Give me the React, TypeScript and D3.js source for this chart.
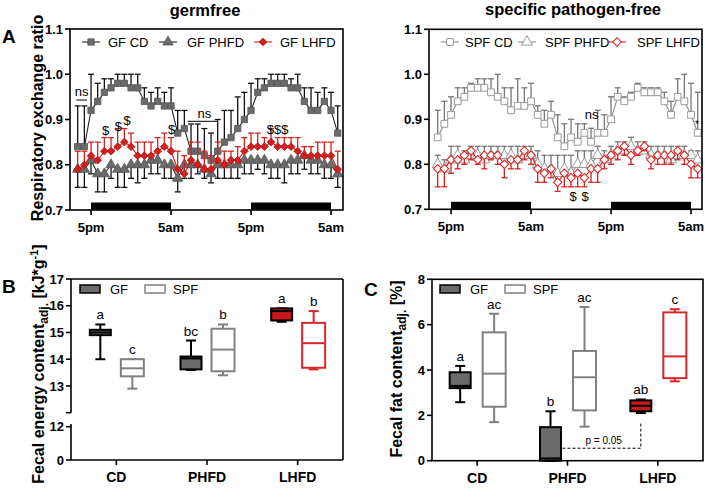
import React from "react";
import * as d3 from "d3";

// RER time course, hourly points starting at 3pm
const gfCD = [0.84, 0.84, 0.92, 0.94, 0.96, 0.97, 0.98, 0.98, 0.97, 0.97, 0.94, 0.93, 0.94, 0.93, 0.93, 0.87, 0.88, 0.83, 0.83, 0.82, 0.81, 0.83, 0.85, 0.86, 0.88, 0.90, 0.92, 0.96, 0.97, 0.98, 0.98, 0.98, 0.97, 0.97, 0.94, 0.92, 0.92, 0.94, 0.92, 0.87];
const gfCDErr = [0.09, 0.09, 0.08, 0.04, 0.03, 0.02, 0.02, 0.02, 0.03, 0.03, 0.03, 0.03, 0.03, 0.03, 0.04, 0.05, 0.04, 0.06, 0.06, 0.06, 0.06, 0.07, 0.07, 0.06, 0.07, 0.06, 0.06, 0.03, 0.02, 0.02, 0.02, 0.02, 0.02, 0.03, 0.03, 0.05, 0.04, 0.03, 0.04, 0.06];
const gfPHFD = [0.79, 0.79, 0.81, 0.78, 0.78, 0.80, 0.79, 0.79, 0.80, 0.80, 0.80, 0.81, 0.81, 0.80, 0.80, 0.77, 0.80, 0.80, 0.80, 0.79, 0.78, 0.80, 0.80, 0.80, 0.80, 0.81, 0.81, 0.81, 0.81, 0.80, 0.80, 0.80, 0.81, 0.81, 0.82, 0.81, 0.81, 0.80, 0.80, 0.78];
const gfPHFDErr = [0.04, 0.04, 0.03, 0.04, 0.04, 0.03, 0.04, 0.04, 0.03, 0.04, 0.03, 0.03, 0.03, 0.03, 0.03, 0.03, 0.03, 0.03, 0.02, 0.02, 0.02, 0.03, 0.03, 0.03, 0.03, 0.03, 0.03, 0.02, 0.03, 0.03, 0.03, 0.04, 0.03, 0.03, 0.03, 0.03, 0.03, 0.03, 0.03, 0.03];
const gfLHFD = [0.79, 0.80, 0.82, 0.81, 0.83, 0.83, 0.84, 0.85, 0.84, 0.82, 0.82, 0.82, 0.83, 0.84, 0.83, 0.79, 0.78, 0.81, 0.80, 0.79, 0.79, 0.81, 0.80, 0.81, 0.81, 0.83, 0.84, 0.84, 0.84, 0.85, 0.84, 0.84, 0.84, 0.83, 0.82, 0.82, 0.82, 0.82, 0.82, 0.79];
const gfLHFDErr = [0.04, 0.03, 0.03, 0.04, 0.03, 0.03, 0.04, 0.03, 0.03, 0.03, 0.03, 0.03, 0.03, 0.03, 0.03, 0.04, 0.04, 0.04, 0.05, 0.04, 0.03, 0.04, 0.03, 0.02, 0.03, 0.03, 0.03, 0.03, 0.02, 0.03, 0.02, 0.02, 0.02, 0.03, 0.02, 0.02, 0.03, 0.03, 0.03, 0.04];

const spfCD = [0.86, 0.89, 0.91, 0.94, 0.95, 0.97, 0.97, 0.97, 0.96, 0.95, 0.94, 0.92, 0.93, 0.93, 0.94, 0.91, 0.89, 0.91, 0.86, 0.84, 0.86, 0.85, 0.87, 0.85, 0.87, 0.87, 0.90, 0.95, 0.94, 0.95, 0.97, 0.96, 0.96, 0.96, 0.94, 0.91, 0.95, 0.94, 0.91, 0.87];
const spfCDErr = [0.06, 0.05, 0.04, 0.03, 0.02, 0.01, 0.02, 0.02, 0.03, 0.05, 0.03, 0.05, 0.06, 0.04, 0.04, 0.02, 0.03, 0.03, 0.05, 0.05, 0.04, 0.04, 0.02, 0.03, 0.05, 0.04, 0.05, 0.02, 0.01, 0.01, 0.01, 0.01, 0.01, 0.01, 0.02, 0.03, 0.04, 0.06, 0.07, 0.09];
const spfPHFD = [0.80, 0.79, 0.81, 0.82, 0.81, 0.82, 0.82, 0.81, 0.82, 0.82, 0.82, 0.82, 0.81, 0.82, 0.82, 0.80, 0.79, 0.79, 0.78, 0.79, 0.78, 0.80, 0.80, 0.80, 0.82, 0.81, 0.82, 0.83, 0.83, 0.84, 0.83, 0.83, 0.82, 0.82, 0.82, 0.81, 0.82, 0.82, 0.82, 0.81];
const spfPHFDErr = [0.02, 0.02, 0.03, 0.02, 0.02, 0.02, 0.02, 0.03, 0.02, 0.02, 0.02, 0.02, 0.03, 0.02, 0.02, 0.03, 0.03, 0.03, 0.04, 0.03, 0.04, 0.03, 0.03, 0.03, 0.02, 0.02, 0.02, 0.02, 0.02, 0.02, 0.02, 0.02, 0.02, 0.02, 0.02, 0.03, 0.02, 0.02, 0.01, 0.02];
const spfLHFD = [0.79, 0.79, 0.81, 0.81, 0.82, 0.83, 0.81, 0.82, 0.82, 0.82, 0.80, 0.81, 0.81, 0.83, 0.82, 0.79, 0.78, 0.79, 0.76, 0.78, 0.77, 0.78, 0.77, 0.79, 0.79, 0.81, 0.82, 0.83, 0.84, 0.82, 0.83, 0.84, 0.81, 0.82, 0.82, 0.82, 0.83, 0.82, 0.80, 0.79];
const spfLHFDErr = [0.04, 0.04, 0.03, 0.02, 0.02, 0.02, 0.01, 0.03, 0.01, 0.02, 0.03, 0.02, 0.02, 0.02, 0.02, 0.03, 0.02, 0.02, 0.02, 0.03, 0.02, 0.03, 0.02, 0.03, 0.03, 0.02, 0.02, 0.02, 0.02, 0.02, 0.01, 0.01, 0.02, 0.02, 0.02, 0.02, 0.02, 0.02, 0.03, 0.02];

const timeTicks = [2, 14, 26, 38];
const timeLabels = ["5pm", "5am", "5pm", "5am"];
const darkPhases: [number, number][] = [[2, 14], [26, 38]];
const rerTicks = [0.7, 0.8, 0.9, 1.0, 1.1];

// fecal analyses, box plots
const diets = ["CD", "PHFD", "LHFD"];
type Box = { min: number; q1: number; med: number; q3: number; max: number };
const energyGF: Box[] = [
  { min: 14.0, q1: 14.9, med: 15.0, q3: 15.1, max: 15.3 },
  { min: 13.6, q1: 13.62, med: 14.03, q3: 14.1, max: 14.7 },
  { min: 15.4, q1: 15.45, med: 15.8, q3: 15.9, max: 15.9 },
];
const energySPF: Box[] = [
  { min: 12.9, q1: 13.36, med: 13.66, q3: 14.0, max: 14.0 },
  { min: 13.4, q1: 13.55, med: 14.36, q3: 15.14, max: 15.3 },
  { min: 13.62, q1: 13.68, med: 14.6, q3: 15.36, max: 15.8 },
];
const energyLettersGF = ["a", "bc", "a"];
const energyLettersSPF = ["c", "b", "b"];
const fatGF: Box[] = [
  { min: 2.58, q1: 3.2, med: 3.3, q3: 3.9, max: 4.18 },
  { min: 0, q1: 0, med: 0.1, q3: 1.48, max: 2.18 },
  { min: 2.1, q1: 2.18, med: 2.42, q3: 2.66, max: 2.7 },
];
const fatSPF: Box[] = [
  { min: 1.7, q1: 2.38, med: 3.84, q3: 5.66, max: 6.48 },
  { min: 1.5, q1: 2.22, med: 3.68, q3: 4.84, max: 6.78 },
  { min: 3.5, q1: 3.64, med: 4.6, q3: 6.54, max: 6.68 },
];
const fatLettersGF = ["a", "b", "ab"];
const fatLettersSPF = ["ac", "ac", "c"];

const FONT = "Arial, 'Liberation Sans', Helvetica, sans-serif";

type Shape = "square" | "triangle" | "diamond";
type Series = {
  name: string; values: number[]; err: number[]; dir: number; shape: Shape;
  fill: string; stroke: string; line: string; errColor: string;
};

function markerPath(shape: Shape, open: boolean) {
  if (shape === "square") return d3.symbol(d3.symbolSquare, open ? 46 : 40)() as string;
  if (shape === "triangle") return d3.symbol(d3.symbolTriangle, open ? 52 : 46)() as string;
  return d3.symbol(d3.symbolSquare, open ? 36 : 30)() as string;
}

function Marker({ s, cx, cy, open }: { s: Series; cx: number; cy: number; open: boolean }) {
  return (
    <path
      d={markerPath(s.shape, open)}
      transform={`translate(${cx},${cy})${s.shape === "diamond" ? " rotate(45)" : ""}`}
      fill={s.fill}
      stroke={s.stroke}
      strokeWidth={open ? 1 : 0.8}
    />
  );
}

function RerPanel(props: {
  axisX: number; right: number; firstX: number; lastX: number; top: number; bottom: number;
  series: Series[]; legendMarkers: number[]; legendText: number[]; open: boolean;
  children?: (x: d3.ScaleLinear<number, number>, y: d3.ScaleLinear<number, number>) => React.ReactNode;
}) {
  const { axisX, right, firstX, lastX, top, bottom, series, open } = props;
  const n = series[0].values.length;
  const x = d3.scaleLinear().domain([0, n - 1]).range([firstX, lastX]);
  const y = d3.scaleLinear().domain([0.7, 1.1]).range([bottom, top]);
  const line = d3.line<number>().x((_d, i) => x(i)).y((d) => y(d));
  return (
    <g>
      {darkPhases.map(([a, b], k) => (
        <rect key={k} x={x(a)} y={bottom - 7.5} width={x(b) - x(a)} height={7.5} fill="#000" />
      ))}
      {series.map((s) => (
        <g key={s.name}>
          {s.values.map((v, i) => {
            const ye = y(v + s.dir * s.err[i]);
            return (
              <g key={i} stroke={s.errColor} strokeWidth={1.3}>
                <line x1={x(i)} x2={x(i)} y1={y(v)} y2={ye} />
                <line x1={x(i) - 3} x2={x(i) + 3} y1={ye} y2={ye} />
              </g>
            );
          })}
          <path d={line(s.values) as string} fill="none" stroke={s.line} strokeWidth={1.1} />
          {s.values.map((v, i) => (
            <Marker key={i} s={s} cx={x(i)} cy={y(v)} open={open} />
          ))}
        </g>
      ))}
      {props.children && props.children(x, y)}
      {/* frame */}
      <rect x={axisX} y={top} width={right - axisX} height={bottom - top} fill="none" stroke="#000" strokeWidth={1.6} />
      {rerTicks.map((t) => (
        <g key={t}>
          <line x1={axisX - 5} x2={axisX} y1={y(t)} y2={y(t)} stroke="#000" strokeWidth={1.6} />
          <text x={axisX - 7} y={y(t)} dy="0.36em" textAnchor="end" fontSize={13} fontWeight="bold">
            {t.toFixed(1)}
          </text>
        </g>
      ))}
      {timeTicks.map((t, k) => (
        <g key={t}>
          <line x1={x(t)} x2={x(t)} y1={bottom} y2={bottom + 5} stroke="#000" strokeWidth={1.6} />
          <text x={x(t)} y={bottom + 22} textAnchor="middle" fontSize={13} fontWeight="bold">
            {timeLabels[k]}
          </text>
        </g>
      ))}
      {series.map((s, k) => (
        <g key={s.name}>
          <line x1={props.legendMarkers[k] - 9} x2={props.legendMarkers[k] + 9} y1={42} y2={42} stroke={s.line} strokeWidth={1.1} />
          <Marker s={s} cx={props.legendMarkers[k]} cy={42} open={open} />
          <text x={props.legendText[k]} y={42} dy="0.36em" fontSize={13}>{s.name}</text>
        </g>
      ))}
    </g>
  );
}

function BoxGlyph({ b, cx, w, y, fill, stroke }: { b: Box; cx: number; w: number; y: (v: number) => number; fill: string; stroke: string }) {
  return (
    <g stroke={stroke} strokeWidth={2}>
      <line x1={cx} x2={cx} y1={y(b.max)} y2={y(b.q3)} />
      <line x1={cx} x2={cx} y1={y(b.q1)} y2={y(b.min)} />
      <line x1={cx - 5} x2={cx + 5} y1={y(b.max)} y2={y(b.max)} />
      <line x1={cx - 5} x2={cx + 5} y1={y(b.min)} y2={y(b.min)} />
      <rect x={cx - w / 2} y={y(b.q3)} width={w} height={Math.max(0.5, y(b.q1) - y(b.q3))} fill={fill} />
      <line x1={cx - w / 2} x2={cx + w / 2} y1={y(b.med)} y2={y(b.med)} />
    </g>
  );
}

const gfFill = ["#6b6b6b", "#6b6b6b", "#c8171e"];
const spfStroke = ["#808080", "#808080", "#d9262a"];

function BoxSet(props: {
  band: d3.ScaleBand<string>; y: (v: number) => number; gf: Box[]; spf: Box[];
  lettersGF: string[]; lettersSPF: string[]; off: number;
}) {
  const { band, y, off } = props;
  return (
    <g>
      {diets.map((d, i) => {
        const c = (band(d) as number) + band.bandwidth() / 2;
        return (
          <g key={d}>
            <BoxGlyph b={props.gf[i]} cx={c - off} w={21} y={y} fill={gfFill[i]} stroke="#000" />
            <BoxGlyph b={props.spf[i]} cx={c + off} w={23} y={y} fill="#fff" stroke={spfStroke[i]} />
            <text x={c - off} y={y(props.gf[i].max) - 5} textAnchor="middle" fontSize={13.5}>{props.lettersGF[i]}</text>
            <text x={c + off} y={y(props.spf[i].max) - 5} textAnchor="middle" fontSize={13.5}>{props.lettersSPF[i]}</text>
            <line x1={c} x2={c} y1={y(0)} y2={y(0) + 5} stroke="#000" strokeWidth={1.6} />
            <text x={c} y={y(0) + 22} textAnchor="middle" fontSize={14} fontWeight="bold">{d}</text>
          </g>
        );
      })}
    </g>
  );
}

function BoxLegend({ x, y }: { x: number; y: number }) {
  return (
    <g>
      <rect x={x} y={y - 4} width={20} height={8} fill="#6b6b6b" stroke="#000" strokeWidth={1.5} />
      <text x={x + 30} y={y} dy="0.36em" fontSize={13}>GF</text>
      <rect x={x + 65} y={y - 4} width={20} height={8} fill="#fff" stroke="#808080" strokeWidth={1.5} />
      <text x={x + 93} y={y} dy="0.36em" fontSize={13}>SPF</text>
    </g>
  );
}

export default function App() {
  const gfSeries: Series[] = [
    { name: "GF CD", values: gfCD, err: gfCDErr, dir: 1, shape: "square", fill: "#6b6b6b", stroke: "#555", line: "#222", errColor: "#111" },
    { name: "GF PHFD", values: gfPHFD, err: gfPHFDErr, dir: -1, shape: "triangle", fill: "#6b6b6b", stroke: "#555", line: "#222", errColor: "#111" },
    { name: "GF LHFD", values: gfLHFD, err: gfLHFDErr, dir: 1, shape: "diamond", fill: "#d11f1f", stroke: "#b51515", line: "#d11f1f", errColor: "#d42222" },
  ];
  const spfSeries: Series[] = [
    { name: "SPF CD", values: spfCD, err: spfCDErr, dir: 1, shape: "square", fill: "#fff", stroke: "#999", line: "#8a8a8a", errColor: "#777" },
    { name: "SPF PHFD", values: spfPHFD, err: spfPHFDErr, dir: 1, shape: "triangle", fill: "#fff", stroke: "#999", line: "#8a8a8a", errColor: "#777" },
    { name: "SPF LHFD", values: spfLHFD, err: spfLHFDErr, dir: -1, shape: "diamond", fill: "#fff", stroke: "#e02020", line: "#d42222", errColor: "#d42222" },
  ];

  // panel B scales (broken axis)
  const bBand = d3.scaleBand<string>().domain(diets).range([71, 343]);
  const bUpper = d3.scaleLinear().domain([12, 17]).range([412.7, 279]);
  const bLower = d3.scaleLinear().domain([0, 12]).range([460, 426.7]);
  const bY = (v: number) => (v >= 12.5 ? bUpper(v) : bLower(v));
  // panel C scales
  const cBand = d3.scaleBand<string>().domain(diets).range([432, 703]);
  const cY = d3.scaleLinear().domain([0, 8]).range([460.7, 279.3]);
  const phfdC = (cBand("PHFD") as number) + cBand.bandwidth() / 2 - 17;
  const lhfdC = (cBand("LHFD") as number) + cBand.bandwidth() / 2 - 17;

  return (
    <svg width={705} height={499} style={{ position: "absolute", left: 0, top: 0, background: "#fff" }} fontFamily={FONT}>
      <rect width={705} height={499} fill="#fff" />
      <text x={205} y={16} textAnchor="middle" fontSize={16.5} fontWeight="bold">germfree</text>
      <text x={573} y={15} textAnchor="middle" fontSize={16.5} fontWeight="bold">specific pathogen-free</text>
      <text x={2} y={43} fontSize={19} fontWeight="bold">A</text>
      <text x={2} y={293} fontSize={19} fontWeight="bold">B</text>
      <text x={364} y={296} fontSize={19} fontWeight="bold">C</text>
      <text transform="translate(43,118) rotate(-90)" textAnchor="middle" fontSize={16} fontWeight="bold">
        Respiratory exchange ratio
      </text>

      <RerPanel axisX={70} right={343} firstX={77.7} lastX={337.7} top={29} bottom={210} series={gfSeries}
        legendMarkers={[91, 168, 263]} legendText={[108, 187, 280]} open={false}>
        {(x, y) => (
          <g fontSize={13}>
            <text x={x(0.6)} y={y(0.951)} textAnchor="middle">ns</text>
            <line x1={x(-0.2)} x2={x(1.4)} y1={y(0.943)} y2={y(0.943)} stroke="#000" strokeWidth={1} />
            <text x={x(4.2)} y={y(0.865)} textAnchor="middle">$</text>
            <text x={x(6.1)} y={y(0.875)} textAnchor="middle">$</text>
            <text x={x(7.4)} y={y(0.888)} textAnchor="middle">$</text>
            <text x={x(14.1)} y={y(0.867)} textAnchor="middle">$</text>
            <text x={x(19.0)} y={y(0.903)} textAnchor="middle">ns</text>
            <line x1={x(16.5)} x2={x(20.9)} y1={y(0.896)} y2={y(0.896)} stroke="#000" strokeWidth={1} />
            <text x={x(30.0)} y={y(0.868)} textAnchor="middle">$$$</text>
          </g>
        )}
      </RerPanel>

      <RerPanel axisX={429} right={702} firstX={437.7} lastX={697.7} top={29.3} bottom={209.3} series={spfSeries}
        legendMarkers={[450, 527, 617]} legendText={[465, 545, 637]} open={true}>
        {(x, y) => (
          <g fontSize={13}>
            <text x={x(23.1)} y={y(0.9)} textAnchor="middle">ns</text>
            <text x={x(20.3)} y={y(0.718)} textAnchor="middle">$</text>
            <text x={x(22.1)} y={y(0.718)} textAnchor="middle">$</text>
            <text x={x(38.9)} y={y(0.88)} textAnchor="middle" fontSize={10}>*</text>
          </g>
        )}
      </RerPanel>

      {/* Panel B */}
      <g>
        <line x1={71} x2={343} y1={279} y2={279} stroke="#000" strokeWidth={1.6} />
        <line x1={343} x2={343} y1={279} y2={460} stroke="#000" strokeWidth={1.6} />
        <line x1={71} x2={343} y1={460} y2={460} stroke="#000" strokeWidth={1.6} />
        <line x1={71} x2={71} y1={279} y2={bUpper(12)} stroke="#000" strokeWidth={1.6} />
        <line x1={71} x2={71} y1={424} y2={460} stroke="#000" strokeWidth={1.6} />
        {[12, 13, 14, 15, 16, 17].map((t) => (
          <g key={t}>
            <line x1={66} x2={71} y1={bUpper(t)} y2={bUpper(t)} stroke="#000" strokeWidth={1.6} />
            {t > 12 && (
              <text x={64} y={bUpper(t)} dy="0.36em" textAnchor="end" fontSize={13} fontWeight="bold">{t}</text>
            )}
          </g>
        ))}
        {[0, 12].map((t) => (
          <g key={t}>
            <line x1={66} x2={71} y1={bLower(t)} y2={bLower(t)} stroke="#000" strokeWidth={1.6} />
            <text x={64} y={bLower(t)} dy="0.36em" textAnchor="end" fontSize={13} fontWeight="bold">{t}</text>
          </g>
        ))}
        <BoxLegend x={80} y={289} />
        <BoxSet band={bBand} y={bY} gf={energyGF} spf={energySPF} lettersGF={energyLettersGF} lettersSPF={energyLettersSPF} off={16} />
        <text transform="translate(44,364) rotate(-90)" textAnchor="middle" fontSize={16} fontWeight="bold">
          Fecal energy content<tspan fontSize={12} dy={4}>adj.</tspan>
          <tspan dy={-4}> [kJ*g</tspan>
          <tspan fontSize={11} dy={-6}>-1</tspan>
          <tspan dy={6}>]</tspan>
        </text>
      </g>

      {/* Panel C */}
      <g>
        <rect x={432} y={279.3} width={271} height={181.4} fill="none" stroke="#000" strokeWidth={1.6} />
        {[0, 2, 4, 6, 8].map((t) => (
          <g key={t}>
            <line x1={427} x2={432} y1={cY(t)} y2={cY(t)} stroke="#000" strokeWidth={1.6} />
            <text x={425} y={cY(t)} dy="0.36em" textAnchor="end" fontSize={13} fontWeight="bold">{t}</text>
          </g>
        ))}
        <BoxLegend x={440} y={289} />
        <BoxSet band={cBand} y={cY} gf={fatGF} spf={fatSPF} lettersGF={fatLettersGF} lettersSPF={fatLettersSPF} off={17} />
        <path
          d={`M${phfdC + 12},${cY(0.55)}H${lhfdC}V${cY(1.72)}`}
          fill="none" stroke="#000" strokeWidth={1} strokeDasharray="3,2"
        />
        <text x={(phfdC + lhfdC) / 2 + 8} y={cY(0.75)} textAnchor="middle" fontSize={10}>p = 0.05</text>
        <text transform="translate(402,369) rotate(-90)" textAnchor="middle" fontSize={16} fontWeight="bold">
          Fecal fat content<tspan fontSize={12} dy={4}>adj.</tspan>
          <tspan dy={-4}> [%]</tspan>
        </text>
      </g>
    </svg>
  );
}
